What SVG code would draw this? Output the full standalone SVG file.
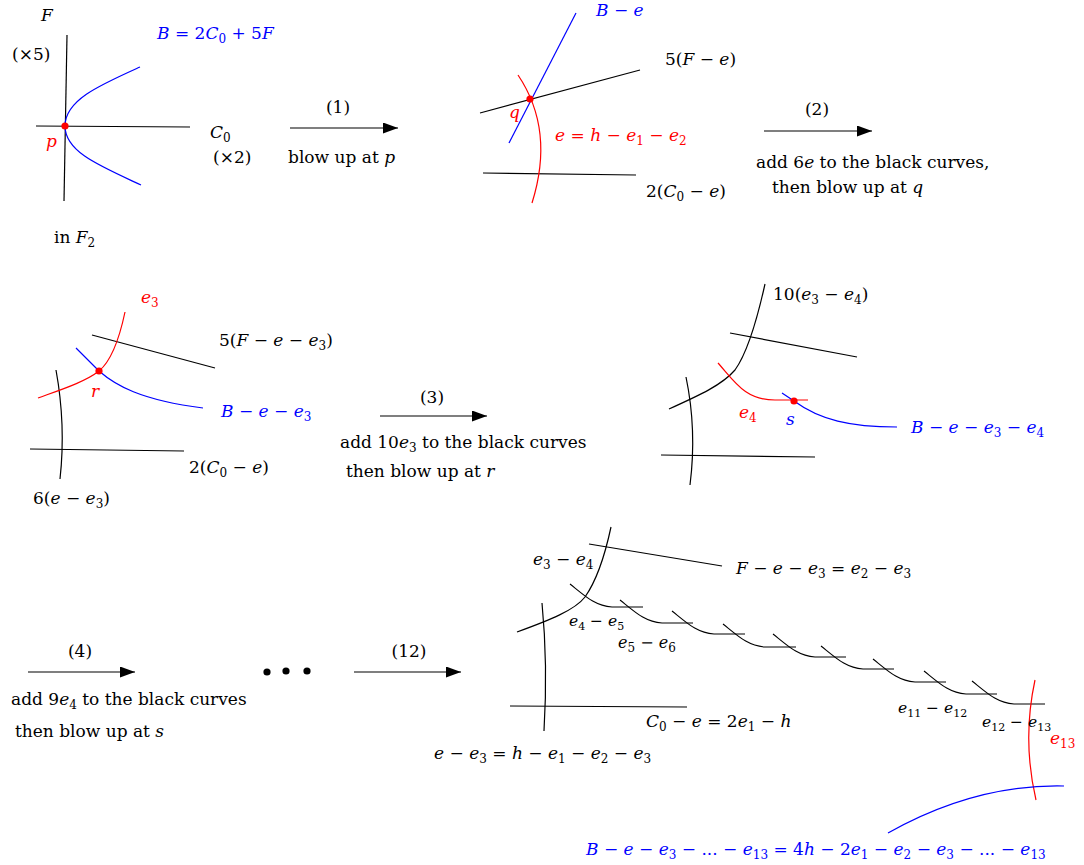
<svg xmlns="http://www.w3.org/2000/svg" xmlns:xlink="http://www.w3.org/1999/xlink" width="1084" height="865" viewBox="0 0 1084 865">
<style>
.t{font-family:"DejaVu Serif","Liberation Serif",serif;font-size:17px;fill:#000}
.i{font-style:italic}
.sb{font-size:12px}
.sm{font-size:15.5px}
.sm .sb{font-size:11px}
.r{fill:#ff0000}
.b{fill:#0000ff}
.k{fill:none;stroke:#000;stroke-width:1.2}
.kr{fill:none;stroke:#ff0000;stroke-width:1.2}
.kb{fill:none;stroke:#0000ff;stroke-width:1.2}
.dot{fill:#ff0000}
.arr{fill:none;stroke:#000;stroke-width:1.2;marker-end:url(#ah)}
</style>
<defs>
<marker id="ah" markerUnits="userSpaceOnUse" markerWidth="16" markerHeight="12" refX="15" refY="5.5" orient="auto">
<path d="M0,0 L15,5.5 L0,11 z" fill="#000"/>
</marker>
<path id="link" d="M0,0 C15,12 25,22 42,23 L73,23" fill="none" stroke="#000" stroke-width="1.1"/>
</defs>
<rect width="1084" height="865" fill="#fff"/>

<g id="panel1">
<path class="k" d="M67,35 L64,201"/>
<path class="k" d="M36,126 L190,127"/>
<path class="kb" d="M140,67 C100,85 65,100 65,126 C65,152 100,166 141,185"/>
<circle class="dot" cx="65" cy="126" r="3.6"/>
<text class="t i" x="41" y="21">F</text>
<text class="t" x="12" y="60">(×5)</text>
<text class="t b" x="157" y="39"><tspan class="i">B</tspan> = 2<tspan class="i">C</tspan><tspan class="sb" dy="4">0</tspan><tspan dy="-4"> + 5</tspan><tspan class="i">F</tspan></text>
<text class="t r i" x="46" y="147">p</text>
<text class="t" x="210" y="138"><tspan class="i">C</tspan><tspan class="sb" dy="4">0</tspan></text>
<text class="t" x="213" y="163">(×2)</text>
<text class="t" x="54" y="243">in <tspan class="i">F</tspan><tspan class="sb" dy="4">2</tspan></text>
</g>

<g id="panel2">
<path class="k" d="M480,113 L640,70"/>
<path class="k" d="M483,173 L636,175"/>
<path class="kb" d="M576,13 L509,143"/>
<path class="kr" d="M518,75 Q555,130 532,203"/>
<circle class="dot" cx="530" cy="99" r="3.6"/>
<text class="t b" x="596" y="16"><tspan class="i">B</tspan> − <tspan class="i">e</tspan></text>
<text class="t" x="665" y="65">5(<tspan class="i">F</tspan> − <tspan class="i">e</tspan>)</text>
<text class="t r i" x="509" y="118">q</text>
<text class="t r" x="555" y="141"><tspan class="i">e</tspan> = <tspan class="i">h</tspan> − <tspan class="i">e</tspan><tspan class="sb" dy="4">1</tspan><tspan dy="-4"> − </tspan><tspan class="i">e</tspan><tspan class="sb" dy="4">2</tspan></text>
<text class="t" x="646" y="197">2(<tspan class="i">C</tspan><tspan class="sb" dy="4">0</tspan><tspan dy="-4"> − </tspan><tspan class="i">e</tspan>)</text>
</g>

<g id="panel3">
<path class="k" d="M92,335 L215,368"/>
<path class="k" d="M56,370 Q66,425 60,479"/>
<path class="k" d="M30,449 L184,451"/>
<path class="kr" d="M38,398 C60,390 85,382 99,371 C110,362 118,345 125,312"/>
<path class="kb" d="M76,348 L99,371 C115,385 140,400 203,408"/>
<circle class="dot" cx="99" cy="371" r="3.6"/>
<text class="t r" x="141" y="303"><tspan class="i">e</tspan><tspan class="sb" dy="4">3</tspan></text>
<text class="t" x="219" y="346">5(<tspan class="i">F</tspan> − <tspan class="i">e</tspan> − <tspan class="i">e</tspan><tspan class="sb" dy="4">3</tspan><tspan dy="-4">)</tspan></text>
<text class="t r i" x="91" y="397">r</text>
<text class="t b" x="221" y="417"><tspan class="i">B</tspan> − <tspan class="i">e</tspan> − <tspan class="i">e</tspan><tspan class="sb" dy="4">3</tspan></text>
<text class="t" x="189" y="473">2(<tspan class="i">C</tspan><tspan class="sb" dy="4">0</tspan><tspan dy="-4"> − </tspan><tspan class="i">e</tspan>)</text>
<text class="t" x="33" y="504">6(<tspan class="i">e</tspan> − <tspan class="i">e</tspan><tspan class="sb" dy="4">3</tspan><tspan dy="-4">)</tspan></text>
</g>

<g id="panel4">
<path class="k" d="M669,409 C700,395 722,385 735,370 C748,352 757,320 765,284"/>
<path class="k" d="M730,333 L857,357"/>
<path class="k" d="M686,377 Q697,430 690,485"/>
<path class="k" d="M661,455 L815,457"/>
<path class="kr" d="M718,363 C735,382 745,400 775,400 L808,400"/>
<path class="kb" d="M782,393 L794,401 C820,420 850,427 897,427"/>
<circle class="dot" cx="794" cy="401" r="3.6"/>
<text class="t" x="773" y="300">10(<tspan class="i">e</tspan><tspan class="sb" dy="4">3</tspan><tspan dy="-4"> − </tspan><tspan class="i">e</tspan><tspan class="sb" dy="4">4</tspan><tspan dy="-4">)</tspan></text>
<text class="t r" x="739" y="418"><tspan class="i">e</tspan><tspan class="sb" dy="4">4</tspan></text>
<text class="t b i" x="786" y="425">s</text>
<text class="t b" x="911" y="433"><tspan class="i">B</tspan> − <tspan class="i">e</tspan> − <tspan class="i">e</tspan><tspan class="sb" dy="4">3</tspan><tspan dy="-4"> − </tspan><tspan class="i">e</tspan><tspan class="sb" dy="4">4</tspan></text>
</g>

<g id="dots">
<circle cx="267" cy="672" r="3.6" fill="#000"/>
<circle cx="286" cy="671" r="3.6" fill="#000"/>
<circle cx="307" cy="671" r="3.6" fill="#000"/>
</g>

<g id="panel5">
<path class="k" d="M517,632 C550,620 575,610 585,597 C597,580 605,555 611,527"/>
<path class="k" d="M589,544 L722,566"/>
<path class="k" d="M542,603 Q548,665 544,731"/>
<path class="k" d="M510,706 L687,707"/>
<use xlink:href="#link" x="570" y="584"/>
<use xlink:href="#link" x="620" y="600"/>
<use xlink:href="#link" x="672" y="611"/>
<use xlink:href="#link" x="723" y="624"/>
<use xlink:href="#link" x="773" y="634"/>
<use xlink:href="#link" x="821" y="646"/>
<use xlink:href="#link" x="873" y="659"/>
<use xlink:href="#link" x="924" y="671"/>
<use xlink:href="#link" x="972" y="681"/>
<path class="kr" d="M1035,680 Q1022,740 1036,800"/>
<path class="kb" d="M888,833 Q975,784 1064,786"/>
<text class="t" x="533" y="565"><tspan class="i">e</tspan><tspan class="sb" dy="4">3</tspan><tspan dy="-4"> − </tspan><tspan class="i">e</tspan><tspan class="sb" dy="4">4</tspan></text>
<text class="t" x="736" y="574"><tspan class="i">F</tspan> − <tspan class="i">e</tspan> − <tspan class="i">e</tspan><tspan class="sb" dy="4">3</tspan><tspan dy="-4"> = </tspan><tspan class="i">e</tspan><tspan class="sb" dy="4">2</tspan><tspan dy="-4"> − </tspan><tspan class="i">e</tspan><tspan class="sb" dy="4">3</tspan></text>
<text class="t sm" x="569" y="626"><tspan class="i">e</tspan><tspan class="sb" dy="4">4</tspan><tspan dy="-4"> − </tspan><tspan class="i">e</tspan><tspan class="sb" dy="4">5</tspan></text>
<text class="t" x="618" y="648" style="font-size:16px"><tspan class="i">e</tspan><tspan class="sb" dy="4">5</tspan><tspan dy="-4"> − </tspan><tspan class="i">e</tspan><tspan class="sb" dy="4">6</tspan></text>
<text class="t sm" x="898" y="713"><tspan class="i">e</tspan><tspan class="sb" dy="4">11</tspan><tspan dy="-4"> − </tspan><tspan class="i">e</tspan><tspan class="sb" dy="4">12</tspan></text>
<text class="t sm" x="982" y="727"><tspan class="i">e</tspan><tspan class="sb" dy="4">12</tspan><tspan dy="-4"> − </tspan><tspan class="i">e</tspan><tspan class="sb" dy="4">13</tspan></text>
<text class="t r" x="1050" y="744"><tspan class="i">e</tspan><tspan class="sb" dy="4">13</tspan></text>
<text class="t" x="646" y="727"><tspan class="i">C</tspan><tspan class="sb" dy="4">0</tspan><tspan dy="-4"> − </tspan><tspan class="i">e</tspan> = 2<tspan class="i">e</tspan><tspan class="sb" dy="4">1</tspan><tspan dy="-4"> − </tspan><tspan class="i">h</tspan></text>
<text class="t" x="434" y="759"><tspan class="i">e</tspan> − <tspan class="i">e</tspan><tspan class="sb" dy="4">3</tspan><tspan dy="-4"> = </tspan><tspan class="i">h</tspan> − <tspan class="i">e</tspan><tspan class="sb" dy="4">1</tspan><tspan dy="-4"> − </tspan><tspan class="i">e</tspan><tspan class="sb" dy="4">2</tspan><tspan dy="-4"> − </tspan><tspan class="i">e</tspan><tspan class="sb" dy="4">3</tspan></text>
<text class="t b" x="586" y="855"><tspan class="i">B</tspan> − <tspan class="i">e</tspan> − <tspan class="i">e</tspan><tspan class="sb" dy="4">3</tspan><tspan dy="-4"> − ... − </tspan><tspan class="i">e</tspan><tspan class="sb" dy="4">13</tspan><tspan dy="-4"> = 4</tspan><tspan class="i">h</tspan> − 2<tspan class="i">e</tspan><tspan class="sb" dy="4">1</tspan><tspan dy="-4"> − </tspan><tspan class="i">e</tspan><tspan class="sb" dy="4">2</tspan><tspan dy="-4"> − </tspan><tspan class="i">e</tspan><tspan class="sb" dy="4">3</tspan><tspan dy="-4"> − ... − </tspan><tspan class="i">e</tspan><tspan class="sb" dy="4">13</tspan></text>
</g>

<g id="connectors">
<path class="arr" d="M290,128 L398,128"/>
<path class="arr" d="M764,131 L872,131"/>
<path class="arr" d="M380,416 L487,416"/>
<path class="arr" d="M28,672 L135,672"/>
<path class="arr" d="M354,672 L461,672"/>
<text class="t" x="338" y="113" text-anchor="middle">(1)</text>
<text class="t" x="288" y="163">blow up at <tspan class="i">p</tspan></text>
<text class="t" x="817" y="115" text-anchor="middle">(2)</text>
<text class="t" x="756" y="168">add 6<tspan class="i">e</tspan> to the black curves,</text>
<text class="t" x="772" y="193">then blow up at <tspan class="i">q</tspan></text>
<text class="t" x="432" y="403" text-anchor="middle">(3)</text>
<text class="t" x="340" y="448">add 10<tspan class="i">e</tspan><tspan class="sb" dy="4">3</tspan><tspan dy="-4"> to the black curves</tspan></text>
<text class="t" x="346" y="477">then blow up at <tspan class="i">r</tspan></text>
<text class="t" x="80" y="657" text-anchor="middle">(4)</text>
<text class="t" x="11" y="705">add 9<tspan class="i">e</tspan><tspan class="sb" dy="4">4</tspan><tspan dy="-4"> to the black curves</tspan></text>
<text class="t" x="15" y="737">then blow up at <tspan class="i">s</tspan></text>
<text class="t" x="409" y="657" text-anchor="middle">(12)</text>
</g>
</svg>
